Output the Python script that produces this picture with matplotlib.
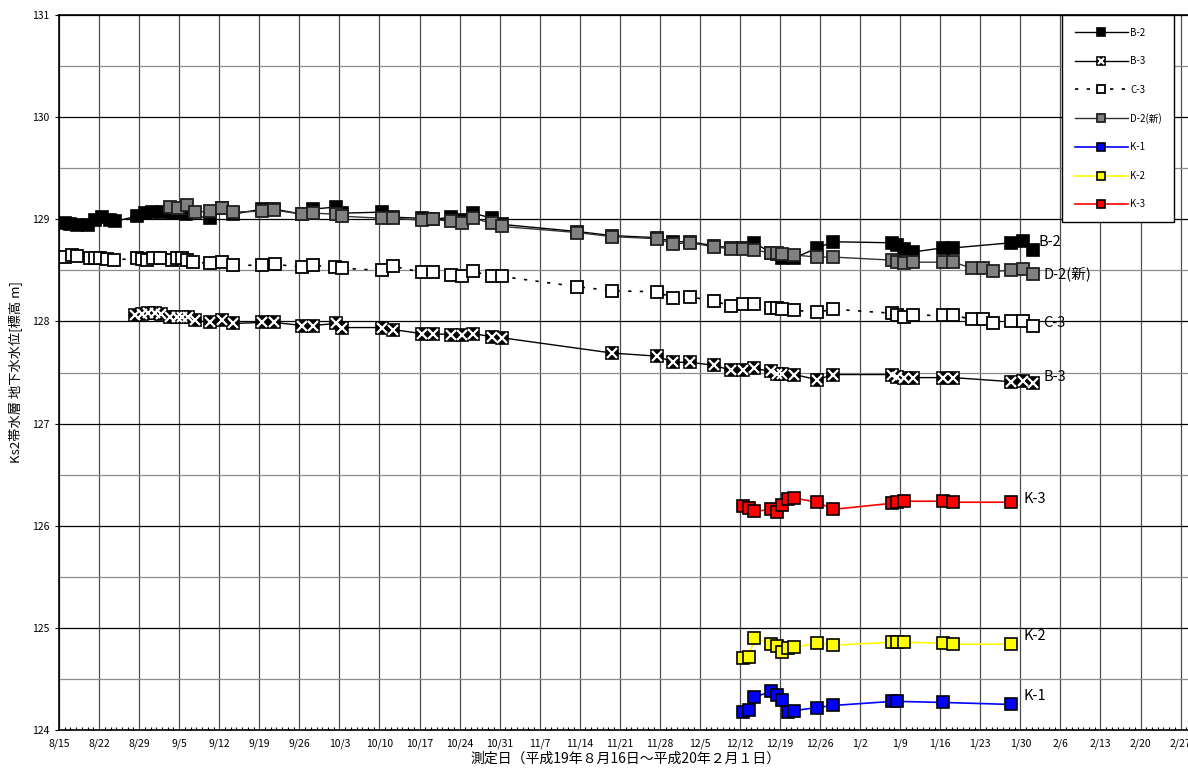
import datetime as dt
import matplotlib.pyplot as plt
from matplotlib.ticker import MultipleLocator

plt.rcParams['font.family'] = ['Noto Sans CJK JP', 'DejaVu Sans']

start = dt.date(2007, 8, 15)   # x = days since 8/15

# B-2
b2_days = [1.0, 1.9, 3.1, 5.1, 6.3, 7.5, 8.9, 9.8, 13.6, 15.0, 16.3, 18.0, 19.8, 21.2, 22.2,
           26.4, 28.5, 30.4, 35.5, 37.6, 42.5, 44.4, 48.4, 49.5, 56.5, 58.4,
           63.5, 65.4, 68.5, 70.5, 72.4, 75.7, 77.4, 90.6, 96.7, 104.5, 107.3, 110.3, 114.5,
           117.5, 119.6, 121.5, 124.5, 125.5, 126.4, 128.5, 132.5, 135.3,
           145.6, 146.5, 147.6, 149.3, 154.4, 156.3, 166.4, 168.5, 170.3]
b2_vals = [128.96, 128.95, 128.94, 128.94, 128.99, 129.02, 128.99, 128.98, 129.03, 129.06, 129.07,
           129.07, 129.06, 129.06, 129.05, 129.01, 129.11, 129.05, 129.10, 129.10, 129.05, 129.10,
           129.12, 129.06, 129.07, 129.02, 129.01, 129.00, 129.02, 128.99, 129.06, 129.01, 128.95,
           128.88, 128.84, 128.82, 128.78, 128.78, 128.74, 128.72, 128.72, 128.77, 128.67, 128.66,
           128.62, 128.62, 128.72, 128.78, 128.77, 128.75, 128.71, 128.68, 128.72, 128.72,
           128.77, 128.79, 128.70]

# B-3
b3_days = [13.3, 14.5, 15.6, 16.8, 17.8, 19.4, 20.6, 21.5, 22.6, 23.8, 26.4, 28.5, 30.4,
           35.5, 37.6, 42.5, 44.4, 48.4, 49.5, 56.5, 58.4, 63.5, 65.4, 68.5, 70.5, 72.4,
           75.7, 77.4, 96.7, 104.5, 107.3, 110.3, 114.5, 117.5, 119.6, 121.5, 124.5, 125.5,
           126.4, 128.5, 132.5, 135.3, 145.6, 146.5, 147.6, 149.3, 154.4, 156.3, 166.4,
           168.5, 170.3]
b3_vals = [128.06, 128.07, 128.08, 128.08, 128.07, 128.04, 128.04, 128.04, 128.04, 128.01,
           127.99, 128.01, 127.98, 127.99, 127.99, 127.96, 127.96, 127.98, 127.94, 127.94,
           127.92, 127.88, 127.88, 127.87, 127.87, 127.88, 127.85, 127.84, 127.69, 127.66,
           127.60, 127.60, 127.57, 127.52, 127.52, 127.54, 127.51, 127.49, 127.49, 127.48,
           127.43, 127.48, 127.48, 127.46, 127.45, 127.45, 127.45, 127.45, 127.41, 127.42, 127.40]

# C-3
c3_days = [1.0, 2.3, 3.1, 5.4, 6.3, 7.2, 8.4, 9.6, 13.6, 14.5, 15.4, 16.4, 17.7, 19.8, 20.6,
           21.5, 22.4, 23.4, 26.4, 28.5, 30.4, 35.5, 37.8, 42.5, 44.4, 48.3, 49.5, 56.5, 58.4,
           63.5, 65.4, 68.5, 70.5, 72.4, 75.7, 77.4, 90.6, 96.7, 104.5, 107.3, 110.3, 114.5,
           117.5, 119.6, 121.5, 124.5, 125.5, 126.4, 128.5, 132.5, 135.3, 145.6, 146.5,
           147.6, 149.3, 154.4, 156.3, 159.6, 161.4, 163.3, 166.4, 168.5, 170.3]
c3_vals = [128.63, 128.65, 128.64, 128.62, 128.62, 128.62, 128.61, 128.60, 128.62, 128.61,
           128.60, 128.62, 128.62, 128.60, 128.62, 128.62, 128.60, 128.58, 128.57, 128.58,
           128.55, 128.55, 128.56, 128.53, 128.55, 128.53, 128.52, 128.50, 128.54, 128.48,
           128.48, 128.45, 128.44, 128.49, 128.44, 128.44, 128.34, 128.30, 128.29, 128.23,
           128.24, 128.20, 128.15, 128.17, 128.17, 128.13, 128.13, 128.12, 128.11, 128.09,
           128.12, 128.08, 128.06, 128.04, 128.06, 128.06, 128.06, 128.02, 128.02, 127.98,
           128.00, 128.00, 127.96]

# D-2(新)
d2_days = [19.4, 20.8, 22.4, 23.8, 26.4, 28.5, 30.4, 35.5, 37.6, 42.5, 44.4, 48.4, 49.5,
           56.5, 58.4, 63.5, 65.4, 68.5, 70.5, 72.4, 75.7, 77.4, 90.6, 96.7, 104.5, 107.3,
           110.3, 114.5, 117.5, 119.6, 121.5, 124.5, 125.5, 126.4, 128.5, 132.5, 135.3,
           145.6, 146.5, 147.6, 149.3, 154.4, 156.3, 159.6, 161.4, 163.3, 166.4, 168.5, 170.3]
d2_vals = [129.12, 129.11, 129.14, 129.07, 129.08, 129.11, 129.07, 129.08, 129.09, 129.05,
           129.06, 129.05, 129.03, 129.01, 129.01, 128.99, 129.00, 128.98, 128.96, 129.01,
           128.96, 128.93, 128.87, 128.83, 128.81, 128.76, 128.77, 128.73, 128.71, 128.71,
           128.70, 128.67, 128.67, 128.66, 128.65, 128.63, 128.63, 128.60, 128.58, 128.57,
           128.58, 128.58, 128.58, 128.52, 128.52, 128.49, 128.50, 128.51, 128.46]

# K wells
k_days = [119.6, 120.5, 121.5, 124.5, 125.5, 126.4, 127.4, 128.5, 132.5, 135.3,
          145.6, 146.5, 147.6, 154.4, 156.3, 166.4]
k1_days = [119.6, 120.5, 121.5, 124.5, 125.5, 126.4, 127.4, 128.5, 132.5, 135.3,
           145.6, 146.5, 154.4, 166.4]
k1_vals = [124.18, 124.20, 124.32, 124.38, 124.34, 124.29, 124.18, 124.19, 124.22, 124.24,
           124.28, 124.28, 124.27, 124.25]
k2_vals = [124.70, 124.71, 124.90, 124.84, 124.82, 124.76, 124.80, 124.81, 124.85, 124.83,
           124.86, 124.86, 124.86, 124.85, 124.84, 124.84]
k3_vals = [126.19, 126.17, 126.14, 126.16, 126.13, 126.20, 126.26, 126.27, 126.23, 126.16,
           126.22, 126.23, 126.24, 126.24, 126.23, 126.23]

fig = plt.figure(figsize=(11.88, 7.71), dpi=100)
ax = fig.add_axes([59 / 1188, 41 / 771, 1133 / 1188, 715 / 771])

ms = 8.7
b2, = ax.plot(b2_days, b2_vals, color='black', lw=1, marker='s', ms=ms, mfc='black', mec='black', mew=1.2)
b3, = ax.plot(b3_days, b3_vals, color='black', lw=1, marker='s', ms=ms, mfc='black', mec='black', mew=1.2)
b3x, = ax.plot(b3_days, b3_vals, ls='none', marker='x', ms=7, mec='white', mew=1.6)
c3, = ax.plot(c3_days, c3_vals, color='black', lw=1.2, ls=(0, (2, 5)), marker='s', ms=ms,
              mfc='white', mec='black', mew=1.3)
d2, = ax.plot(d2_days, d2_vals, color='#333333', lw=1, marker='s', ms=ms, mfc='#808080', mec='#202020', mew=1.3)
k1, = ax.plot(k1_days, k1_vals, color='#0000ff', lw=1.2, marker='s', ms=ms, mfc='#0000ff', mec='black', mew=1.2)
k2, = ax.plot(k_days, k2_vals, color='#ffff00', lw=1.2, marker='s', ms=ms, mfc='#ffff00', mec='black', mew=1.2)
k3, = ax.plot(k_days, k3_vals, color='#ff0000', lw=1.2, marker='s', ms=ms, mfc='#ff0000', mec='black', mew=1.2)

# series names at the right end
lab_font = 10.5
ax.text(171.2, 128.78, 'B-2', fontsize=lab_font, va='center')
ax.text(172.0, 128.47, 'D-2(新)', fontsize=lab_font, va='center')
ax.text(172.0, 127.98, 'C-3', fontsize=lab_font, va='center')
ax.text(172.0, 127.46, 'B-3', fontsize=lab_font, va='center')
ax.text(168.5, 126.26, 'K-3', fontsize=lab_font, va='center')
ax.text(168.5, 124.92, 'K-2', fontsize=lab_font, va='center')
ax.text(168.5, 124.33, 'K-1', fontsize=lab_font, va='center')

# axes
ax.set_xlim(0, 198)
ax.set_ylim(124, 131)
week_ticks = list(range(0, 199, 7))
week_labels = []
for d in week_ticks:
    day = start + dt.timedelta(days=d)
    week_labels.append(f'{day.month}/{day.day}')
ax.set_xticks(week_ticks)
ax.set_xticklabels(week_labels, fontsize=7.5)
ax.xaxis.set_minor_locator(MultipleLocator(1))
ax.set_yticks(range(124, 132))
ax.set_yticklabels([str(v) for v in range(124, 132)], fontsize=7.5)
ax.yaxis.set_minor_locator(MultipleLocator(0.5))
ax.tick_params(axis='x', which='major', direction='in', length=0, pad=6)
ax.tick_params(axis='x', which='minor', direction='in', length=2.5, width=0.8)
ax.tick_params(axis='y', which='major', direction='out', length=3, pad=4)
ax.tick_params(axis='y', which='minor', length=0)

ax.set_axisbelow(True)
ax.grid(axis='y', which='major', color='black', lw=0.9)
ax.grid(axis='y', which='minor', color='#8c8c8c', lw=0.9)
ax.grid(axis='x', which='major', color='#4d4d4d', lw=0.9)
for s in ax.spines.values():
    s.set_color('black')
    s.set_linewidth(1.2)

ax.set_ylabel('Ks2帯水層 地下水水位[標高 m]', fontsize=9.5, labelpad=6)
ax.set_xlabel('測定日（平成19年８月16日～平成20年２月１日）', fontsize=10, labelpad=2)

leg = fig.legend([b2, (b3, b3x), c3, d2, k1, k2, k3],
                 ['B-2', 'B-3', 'C-3', 'D-2(新)', 'K-1', 'K-2', 'K-3'],
                 loc='upper left', bbox_to_anchor=(1062 / 1188, 1 - 15 / 771),
                 fontsize=7, frameon=True, fancybox=False, edgecolor='black',
                 framealpha=1, handlelength=5.5, labelspacing=1.9, borderpad=1.3,
                 handletextpad=0.2, markerscale=0.65, borderaxespad=0)
leg.get_frame().set_linewidth(1)

plt.savefig('out.png', dpi=100)
